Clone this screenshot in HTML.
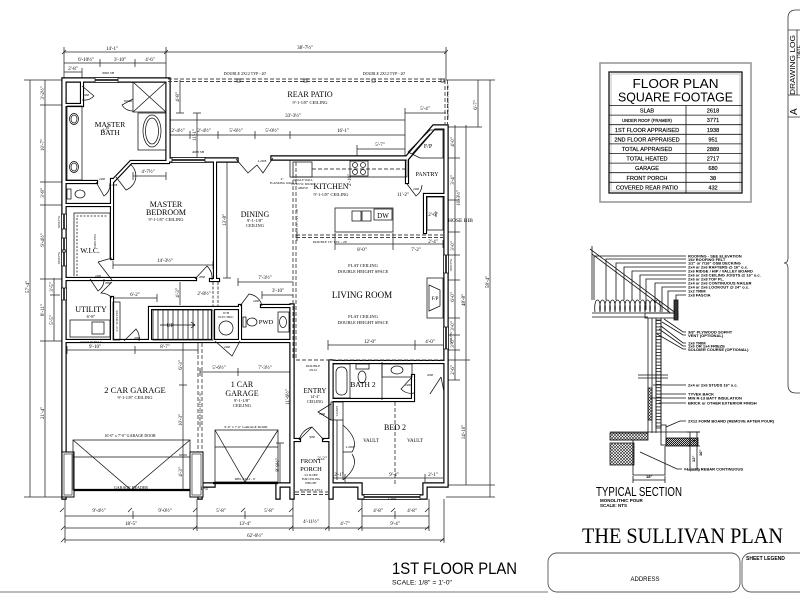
<!DOCTYPE html>
<html><head><meta charset="utf-8">
<style>
html,body{margin:0;padding:0;background:#fff;}
svg{display:block;}
.s{font-family:"Liberation Serif",serif;fill:#000;}
.a{font-family:"Liberation Sans",sans-serif;fill:#000;}
</style></head><body>
<svg width="800" height="600" viewBox="0 0 800 600" xmlns="http://www.w3.org/2000/svg">
<defs>
<path id="ext" d="M64,497 V80 H168 V160 H236 M273,158 H407 L434,127 H446 V485 H425 V497 H360 V485 H331 V362 M331,485 V497 M292,306 V497 M278,497 V485 H292 M200,497 V485 H213"/>
<path id="int" d="M64,182 H96 M64,205 H112 M112,180 V258 M113,181 L131,162 H168 M82,82 V105 H64 M64,279 H195 M211,280 H218 M215,160 V280 M112,298 V341 M64,341 H292 M150,308 H240 M262,306 H292 M150,308 V341 M213,308 V341 M240,306 V341 M331,362 H446 M331,400 H413 M413,376 V400 M407,160 V182 M425,195 H446 M425,195 V232 M292,440 H299 M324,440 H331"/>
<pattern id="brick" width="5" height="3.2" patternUnits="userSpaceOnUse"><path d="M0,0.5 H5" stroke="#111" stroke-width="0.8"/></pattern>
<pattern id="hatch" width="3" height="3" patternUnits="userSpaceOnUse"><path d="M0,3 L3,0 M0,0 L3,3" stroke="#222" stroke-width="0.6"/></pattern>
<pattern id="dark" width="2" height="2" patternUnits="userSpaceOnUse"><path d="M0,2 L2,0" stroke="#000" stroke-width="0.9"/></pattern>
</defs>
<rect width="800" height="600" fill="#fff"/>

<!-- ============ DIMENSION LINES ============ -->
<g stroke="#222" stroke-width="0.75" fill="none">
<path d="M64,52 H446 M64,47 V80 M166,47 V80 M446,47 V80"/>
<path d="M64,63 H166 M100,59 V67 M135,59 V67"/>
<path d="M64,72 H82 M82,68 V78"/>
<path d="M30,80 V497 M45,80 V497 M54,278 V341"/>
<path d="M24,80 H64 M40,105 H64 M40,182 H64 M40,205 H64 M40,279 H64 M40,341 H64 M24,497 H64 M50,295 H60"/>
<path d="M455,125 V380 M466,125 V485 M478,80 V127 M490,80 V497"/>
<path d="M446,80 H495 M446,127 H482 M446,158 H460 M446,200 H460 M446,232 H460 M446,255 H460 M446,280 H460 M446,318 H460 M446,335 H460 M446,350 H460 M446,360 H470 M446,380 H460 M446,485 H495 M446,497 H495"/>
<path d="M65,516 H293 M362,516 H429 M65,528 H429 M65,540 H444"/>
<path d="M65,499 V543 M133,511 V519 M197,499 V531 M245,511 V519 M293,499 V531 M329,499 V531 M362,499 V531 M395,511 V519 M429,499 V531 M444,499 V543"/>
<path d="M168,120 H405 M168,116 V124 M405,108 V160"/>
<path d="M168,135 H405 M190,131 V139 M218,131 V139 M255,131 V139 M290,131 V139"/>
<path d="M357,149 H405 M357,145 V158"/>
<path d="M405,113 H446"/>
<path d="M180,80 V113 M176,113 H184 M197,113 V158 M193,113 H201"/>
<path d="M133,176 H166 M133,172 V180 M166,172 V180"/>
<path d="M113,265 H213 M113,261 V269 M213,261 V269"/>
<path d="M227,162 V278 M223,278 H231"/>
<path d="M183,341 V490 M179,385 H187 M179,455 H187"/>
<path d="M67,350 H198 M135,346 V354 M67,346 V354 M198,346 V354"/>
<path d="M113,298 H157 M157,294 V302"/>
<path d="M180,282 V305 M238,282 H293 M238,278 V286 M262,295 H293 M262,291 V299"/>
<path d="M200,372 H290 M238,368 V376 M200,368 V376 M290,368 V376"/>
<path d="M335,244 H443 M335,233 V250 M393,233 V250 M443,240 V248"/>
<path d="M328,345 H443 M328,340 V350 M415,340 V350"/>
<path d="M332,478 H443 M345,474 V482 M425,474 V482"/>
<path d="M280,443 V485 M276,443 H284 M276,485 H284"/>
<path d="M60,512 l4,-4 M128,512 l4,-4 M193,512 l4,-4 M241,512 l4,-4 M289,512 l4,-4 M358,512 l4,-4 M391,512 l4,-4 M425,512 l4,-4 M61,530 l4,-4 M193,530 l4,-4 M289,530 l4,-4 M325,530 l4,-4 M358,530 l4,-4 M425,530 l4,-4 M61,542 l4,-4 M440,542 l4,-4 M62,54 l4,-4 M164,54 l4,-4 M444,54 l4,-4"/>
</g>

<!-- ============ WALLS ============ -->
<use href="#ext" stroke="#000" stroke-width="5.4" fill="none" stroke-linecap="square"/>
<use href="#int" stroke="#000" stroke-width="4.2" fill="none" stroke-linecap="square"/>
<use href="#ext" stroke="#fff" stroke-width="3" fill="none" stroke-linecap="square"/>
<use href="#int" stroke="#fff" stroke-width="2" fill="none" stroke-linecap="square"/>
<!-- garage stubs -->
<rect x="62" y="452" width="12" height="45" fill="#fff" stroke="#000" stroke-width="1"/>
<rect x="190" y="452" width="13" height="45" fill="#fff" stroke="#000" stroke-width="1"/>
<rect x="64" y="454" width="8" height="41" fill="none" stroke="#111" stroke-width="0.6"/>
<rect x="192" y="454" width="9" height="41" fill="none" stroke="#111" stroke-width="0.6"/>

<!-- windows -->
<g fill="#fff" stroke="#000" stroke-width="0.7">
<rect x="95" y="77.5" width="23" height="5"/><rect x="172" y="157.5" width="33" height="5"/>
<rect x="61.5" y="214" width="5" height="15"/><rect x="61.5" y="238" width="5" height="12"/>
<rect x="61.5" y="252" width="5" height="14"/><rect x="61.5" y="288" width="5" height="12"/>
<rect x="443.5" y="255" width="5" height="18"/><rect x="443.5" y="327" width="5" height="22"/>
<rect x="364" y="494.5" width="56" height="5"/>
</g>
<g stroke="#000" stroke-width="1.5">
<path d="M95,80 H118 M172,160 H205 M64,214 V229 M64,238 V250 M64,252 V266 M64,288 V300 M446,255 V273 M446,327 V349 M364,497 H420"/>
</g>

<!-- ============ FIXTURES & DETAIL LINES ============ -->
<g stroke="#111" stroke-width="0.75" fill="none">
<rect x="67" y="106" width="15" height="74"/>
<ellipse cx="74" cy="119" rx="4.5" ry="5.5"/><ellipse cx="74" cy="119" rx="3" ry="4"/>
<ellipse cx="74" cy="167" rx="4.5" ry="5.5"/><ellipse cx="74" cy="167" rx="3" ry="4"/>
<ellipse cx="80" cy="194" rx="5" ry="4"/><rect x="67" y="189" width="4" height="10"/>
<rect x="133" y="82" width="33" height="30"/><path d="M133,82 L166,112 M166,82 L133,112"/>
<rect x="138" y="113" width="28" height="37"/><ellipse cx="152" cy="131" rx="9" ry="16"/><ellipse cx="152" cy="131" rx="6.5" ry="13"/>
<path d="M74,276 V213 H110 V258"/><path d="M77,276 V216 H107" stroke-dasharray="2 1.5"/>
<path d="M82,86 L94,96 A14,14 0 0 1 82,100"/>
<path d="M133,99 L122,105 A12,12 0 0 0 133,111"/>
<path d="M96,182 L104,196 A14,14 0 0 0 110,183"/>
<path d="M116,177 L126,190 A15,15 0 0 0 130,164"/>
<path d="M195,279 L207,266 A17,17 0 0 1 212,280"/>
<path d="M98,262 L112,280 M112,258 L98,262"/>
<path d="M90,279 L98,291 A14,14 0 0 0 104,279"/>
<path d="M112,282 L101,293 A15,15 0 0 1 112,298"/>
<path d="M124,341 L136,329 A15,15 0 0 1 139,341"/>
<path d="M215,341 L232,356 L240,341"/>
<path d="M240,306 L249,294 A15,15 0 0 1 262,306"/>
<path d="M407,184 L416,196 A14,14 0 0 0 422,185"/>
<path d="M412,377 L401,389 A14,14 0 0 0 414,393"/>
<path d="M441,377 L430,394 M441,377 L444,392"/>
<path d="M331,404 L318,412 L331,420"/>
<path d="M299,440 L312,427 L324,440 M299,440 A18,18 0 0 1 312,427"/>
<path d="M343,425 Q360,440 352,452 L343,452 M343,480 Q360,466 352,454"/>
<path d="M236,159 L248,173 L257,165 L263,173 L273,158"/>
<rect x="70" y="320" width="40" height="17"/><rect x="92" y="322" width="12" height="12"/>
<rect x="113" y="302" width="7" height="38"/>
<rect x="153" y="310" width="60" height="30"/>
<path d="M158,310 V340 M163,310 V340 M168,310 V340 M173,310 V340 M178,310 V340 M183,310 V340 M188,310 V340 M193,310 V340 M198,310 V340 M203,310 V340 M208,310 V340"/>
<path d="M160,325 H195 M191,322 L195,325 L191,328"/>
<circle cx="226" cy="328" r="7"/>
<ellipse cx="252" cy="322" rx="5" ry="4"/><rect x="243" y="317" width="3" height="10"/>
<rect x="278" y="312" width="11" height="20"/><ellipse cx="283" cy="322" rx="3.5" ry="5.5"/>
<path d="M213,282 V306 M218,282 V306" stroke-dasharray="3 1.5"/>
<rect x="290" y="160" width="117" height="17"/>
<path d="M312,169 H405" stroke-dasharray="4 2"/>
<rect x="293" y="162" width="19" height="15"/>
<rect x="350" y="161" width="18" height="15"/>
<circle cx="355" cy="165" r="2.5"/><circle cx="363" cy="165" r="2.5"/><circle cx="355" cy="172" r="2.5"/><circle cx="363" cy="172" r="2.5"/>
<rect x="335" y="208" width="58" height="24"/>
<rect x="352" y="211" width="9" height="10"/><rect x="362" y="211" width="9" height="10"/>
<rect x="374" y="209" width="18" height="11"/>
<rect x="427" y="197" width="16" height="33"/>
<path d="M408,152 L430,130 H443 V158 H420 Z"/>
<path d="M412,154 L430,134" />
<rect x="427" y="278" width="16" height="40"/><path d="M429,285 L440,290 V306 L429,311 Z"/>
<rect x="333" y="364" width="17" height="34"/><rect x="336" y="367" width="11" height="28" rx="5"/>
<rect x="356" y="364" width="13" height="5"/><ellipse cx="362" cy="377" rx="4" ry="6"/>
<rect x="382" y="364" width="30" height="13"/><ellipse cx="397" cy="370" rx="6" ry="4"/>
<path d="M382,362 V400"/>
<rect x="331" y="402" width="12" height="18"/>
<path d="M337,420 V480 M343,420 V480"/>
<rect x="73" y="440" width="117" height="50"/><path d="M73,457 H190 M73,440 L131,490 L190,440"/>
<rect x="215" y="430" width="63" height="52"/><path d="M215,447 H278 M215,430 L245,482 L278,430"/>
</g>
<g stroke="#000" stroke-width="2.2"><path d="M74,490 H190 M213,483 H278"/></g>
<g stroke="#444" stroke-width="0.9" fill="none" stroke-dasharray="4 2">
<path d="M168,79 H445 M168,81.5 H445 M445,80 V125 M447.5,80 V125"/>
<path d="M293,162 V360 M296,162 V360"/>
<path d="M296,235 H443 M296,237.5 H443"/>
<path d="M198,343 V452 M202,343 V452"/>
<path d="M296,360 H443"/>
<path d="M395,402 V484"/>
<path d="M295,492 H328 M295,494.5 H328"/>
</g>
<g fill="#fff" stroke="#111" stroke-width="0.7">
<rect x="237" y="79" width="3" height="3"/><rect x="304" y="79" width="3" height="3"/><rect x="372" y="79" width="3" height="3"/><rect x="441" y="79" width="3" height="3"/>
</g>

<!-- ============ PLAN TEXT ============ -->
<g class="s" text-anchor="middle">
<text x="110" y="127" font-size="7.5">MASTER</text><text x="110" y="135" font-size="7.5">BATH</text>
<text x="166" y="207" font-size="8">MASTER</text><text x="166" y="215" font-size="8">BEDROOM</text><text x="166" y="221" font-size="4.5">9'-1-1/8" CEILING</text>
<text x="90" y="253" font-size="7.5">W.I.C.</text>
<text x="255" y="217" font-size="8">DINING</text><text x="255" y="222" font-size="4.5">9'-1-1/8"</text><text x="255" y="227" font-size="4.5">CEILING</text>
<text x="310" y="97" font-size="8">REAR PATIO</text><text x="310" y="104" font-size="4.5">9'-1-1/8" CEILING</text>
<text x="331" y="189" font-size="8">KITCHEN</text><text x="331" y="196" font-size="4.5">9'-1-1/8" CEILING</text>
<text x="427" y="176" font-size="6">PANTRY</text>
<text x="428" y="148" font-size="6">F/P</text><text x="435" y="300" font-size="5">F/P</text>
<text x="362" y="298" font-size="9">LIVING ROOM</text>
<text x="363" y="267" font-size="4.5">FLAT CEILING</text><text x="363" y="273" font-size="4.5">DOUBLE HEIGHT SPACE</text>
<text x="363" y="318" font-size="4.5">FLAT CEILING</text><text x="363" y="324" font-size="4.5">DOUBLE HEIGHT SPACE</text>
<text x="91" y="312" font-size="8">UTILITY</text><text x="91" y="318" font-size="4.5">6'-8"</text>
<text x="170" y="327" font-size="5.5">UP</text>
<text x="226" y="314" font-size="3.2">W/H</text><text x="226" y="318" font-size="3.2">ELECTRIC</text>
<text x="266" y="324" font-size="6.5">PWD</text>
<text x="135" y="393" font-size="8.5">2 CAR GARAGE</text><text x="135" y="399" font-size="4.5">9'-1-1/8" CEILING</text>
<text x="130" y="437" font-size="4">16'-0" x 7'-0" GARAGE DOOR</text>
<text x="131" y="489" font-size="4">GARAGE HEADER</text>
<text x="242" y="387" font-size="8">1 CAR</text><text x="242" y="396" font-size="8">GARAGE</text><text x="242" y="402" font-size="4.5">9'-1-1/8"</text><text x="242" y="407" font-size="4.5">CEILING</text>
<text x="246" y="428" font-size="3.5">9'-0" x 7'-0" GARAGE DOOR</text>
<text x="245" y="480" font-size="3.5">DBL 2X12 - 9'</text>
<text x="315" y="393" font-size="7">ENTRY</text><text x="315" y="398" font-size="4">14'-4"</text><text x="315" y="403" font-size="4">CEILING</text>
<text x="363" y="387" font-size="7.5">BATH 2</text>
<text x="395" y="430" font-size="8">BED 2</text>
<text x="371" y="442" font-size="5">VAULT</text><text x="415" y="442" font-size="5">VAULT</text>
<text x="311" y="463" font-size="6.5">FRONT</text><text x="311" y="471" font-size="6.5">PORCH</text>
<text x="311" y="476" font-size="3">3/4 SLOPE</text><text x="311" y="480" font-size="3">FOR CEILING</text><text x="311" y="484" font-size="3">HEIGHT</text>
<text x="311" y="491" font-size="3.5">DOUBLE 2X12</text>
<text x="313" y="367" font-size="3.5">DOUBLE</text><text x="313" y="371" font-size="3.5">2X12</text>
<text x="383" y="218" font-size="7">DW</text>
<text x="245" y="75" font-size="4">DOUBLE 2X12 TYP - 20'</text><text x="384" y="75" font-size="4">DOUBLE 2X12 TYP - 20'</text>
<text x="330" y="243" font-size="3.5">DOUBLE 16" LVL - 20'</text>
<text x="303" y="181" font-size="3">SINGLE WALL</text><text x="303" y="185" font-size="3">OVEN W/ MICRO</text><text x="303" y="189" font-size="3">ABOVE</text>
<text x="282" y="180" font-size="3">4"</text><text x="282" y="184" font-size="3">FLANKING WALL</text>
<text x="198" y="153" font-size="3.5">4068 SH</text><text x="108" y="74" font-size="3.5">3068 SH</text>
<text x="113" y="186" font-size="3">2-1068</text><text x="102" y="180" font-size="3">2468</text><text x="86" y="96" font-size="3">2468</text>
<text x="128" y="102" font-size="3">DOOR</text><text x="262" y="162" font-size="3">2-2068</text>
<text x="202" y="278" font-size="3">2868</text><text x="98" y="277" font-size="3">2468</text><text x="108" y="284" font-size="3">2868</text>
<text x="137" y="339" font-size="3">2868</text><text x="227" y="348" font-size="3">2468</text><text x="256" y="302" font-size="3">2468</text>
<text x="416" y="190" font-size="3">2468</text><text x="408" y="386" font-size="3">2468</text><text x="430" y="376" font-size="3">2068</text>
<text x="322" y="415" font-size="3">1868</text><text x="312" y="438" font-size="3">3080</text><text x="350" y="448" font-size="3">2-2068</text>
<text x="392" y="500" font-size="3">2-3060</text><text x="91" y="343" font-size="3">2/3 SOLID BULK</text>
<text x="448" y="222" font-size="5.5" text-anchor="start">HOSE BIB</text>
<g font-size="5">
<text x="112" y="50">14'-1"</text><text x="305" y="49">38'-7½"</text>
<text x="86" y="61">6'-10½"</text><text x="120" y="61">3'-10"</text><text x="150" y="61">4'-6"</text><text x="73" y="70">2'-8"</text>
<text x="293" y="117">33'-3½"</text><text x="178" y="132">2'-4½"</text><text x="204" y="132">2'-4½"</text><text x="236" y="132">5'-6½"</text><text x="272" y="132">5'-0½"</text><text x="343" y="132">16'-1"</text>
<text x="380" y="146">5'-7"</text><text x="425" y="110">5'-4"</text>
<text x="148" y="173">4'-7½"</text><text x="165" y="262">14'-3½"</text>
<text x="135" y="296">6'-2"</text><text x="265" y="279">7'-3½"</text><text x="278" y="292">3'-10"</text><text x="204" y="295">2'-8½"</text>
<text x="95" y="348">9'-10"</text><text x="165" y="348">8'-7"</text>
<text x="219" y="369">5'-6½"</text><text x="265" y="369">7'-3½"</text>
<text x="362" y="251">8'-0"</text><text x="416" y="251">7'-2"</text>
<text x="370" y="343">12'-0"</text><text x="430" y="343">4'-0"</text>
<text x="339" y="476">2'-1"</text><text x="394" y="476">9'-4"</text><text x="433" y="476">2'-1"</text><text x="322" y="460">2'-2"</text>
<text x="403" y="196">11'-2"</text><text x="433" y="216">2'-6"</text><text x="433" y="243">2'-4"</text>
<text x="99" y="512">9'-4½"</text><text x="165" y="512">9'-0½"</text><text x="221" y="512">5'-8"</text><text x="269" y="512">5'-8"</text><text x="378" y="512">4'-8"</text><text x="412" y="512">4'-8"</text>
<text x="131" y="525">18'-5"</text><text x="245" y="525">13'-4"</text><text x="311" y="523">4'-11½"</text><text x="345" y="525">4'-7"</text><text x="395" y="525">9'-4"</text>
<text x="255" y="537">62'-6½"</text><text x="205" y="490">1'-4"</text>
</g>
<g font-size="5">
<text transform="translate(44,93) rotate(-90)">3'-2½"</text>
<text transform="translate(44,145) rotate(-90)">10'-7"</text>
<text transform="translate(44,193) rotate(-90)">3'-8"</text>
<text transform="translate(44,240) rotate(-90)">9'-4½"</text>
<text transform="translate(44,310) rotate(-90)">8'-11"</text>
<text transform="translate(44,413) rotate(-90)">21'-4"</text>
<text transform="translate(29,287) rotate(-90)">57'-4"</text>
<text transform="translate(53,287) rotate(-90)">3'-5"</text>
<text transform="translate(53,320) rotate(-90)">5'-5"</text>
<text transform="translate(477,105) rotate(-90)">6'-7"</text>
<text transform="translate(454,142) rotate(-90)">4'-0"</text>
<text transform="translate(454,180) rotate(-90)">3'-4"</text>
<text transform="translate(460,198) rotate(-90)">10'-3½"</text>
<text transform="translate(454,246) rotate(-90)">3'-0"</text>
<text transform="translate(454,297) rotate(-90)">6'-0"</text>
<text transform="translate(454,326) rotate(-90)">3'-0"</text>
<text transform="translate(454,343) rotate(-90)">3'-0"</text>
<text transform="translate(454,370) rotate(-90)">2'-6"</text>
<text transform="translate(465,300) rotate(-90)">48'-8"</text>
<text transform="translate(489,282) rotate(-90)">58'-4"</text>
<text transform="translate(465,432) rotate(-90)">14'-10"</text>
<text transform="translate(179,97) rotate(-90)">4'-8"</text>
<text transform="translate(196,135) rotate(-90)">11'-1"</text>
<text transform="translate(226,220) rotate(-90)">13'-8"</text>
<text transform="translate(179,293) rotate(-90)">4'-3"</text>
<text transform="translate(182,365) rotate(-90)">6'-3"</text>
<text transform="translate(182,420) rotate(-90)">10'-3"</text>
<text transform="translate(182,472) rotate(-90)">4'-3"</text>
<text transform="translate(279,465) rotate(-90)">8'-9½"</text>
<text transform="translate(289,397) rotate(-90)">11'-6½"</text>
<text transform="translate(351,180) rotate(-90)">2'-10"</text>
<text transform="translate(107,130) rotate(-35)">2'-6"</text>
</g>
<g font-size="3.3">
<text transform="translate(449,102) rotate(-90)">DOUBLE 2X12 TYP - 20'</text>
<text transform="translate(298,225) rotate(-90)">DOUBLE 16" LVL - 20'</text>
<text transform="translate(201,410) rotate(-90)">DOUBLE 2X12 TYP - 10'</text>
<text transform="translate(338,411) rotate(-90)">COATS</text>
<text transform="translate(437,214) rotate(-90)">REF</text>
<text transform="translate(118,321) rotate(-90)">3'-0" SHELVES</text>
<text transform="translate(60,222) rotate(-90)">3068 FW</text>
<text transform="translate(60,258) rotate(-90)">3068 FW</text>
<text transform="translate(452,265) rotate(-90)">3060 FW</text>
<text transform="translate(452,338) rotate(-90)">3060 FW</text>
<text transform="translate(96,241) rotate(-90)">SHELVES</text>
</g>
</g>

<!-- ============ TITLES ============ -->
<text class="a" x="392" y="574" font-size="17" textLength="125" lengthAdjust="spacingAndGlyphs">1ST FLOOR PLAN</text>
<text class="a" x="392" y="584.5" font-size="6.5" textLength="60" lengthAdjust="spacingAndGlyphs">SCALE: 1/8" = 1'-0"</text>
<path d="M0,592 H548" stroke="#bbb" stroke-width="2"/>

<!-- ============ SQUARE FOOTAGE TABLE ============ -->
<rect x="600" y="63" width="151" height="139" fill="none" stroke="#999" stroke-width="1.6"/>
<rect x="609" y="72" width="133" height="121" fill="none" stroke="#111" stroke-width="1.3"/>
<rect x="611" y="74" width="129" height="117" fill="none" stroke="#aaa" stroke-width="0.7"/>
<g class="a" text-anchor="middle">
<text x="675.5" y="88" font-size="13" textLength="86" lengthAdjust="spacingAndGlyphs">FLOOR PLAN</text>
<text x="675.5" y="101.5" font-size="13" textLength="115" lengthAdjust="spacingAndGlyphs">SQUARE FOOTAGE</text>
</g>
<g stroke="#111" stroke-width="0.8">
<path d="M609,105.5 H742 M609,115.1 H742 M609,124.7 H742 M609,134.3 H742 M609,143.9 H742 M609,153.5 H742 M609,163.1 H742 M609,172.7 H742 M609,182.3 H742 M686,105.5 V193"/>
</g>
<g class="a" text-anchor="middle" font-size="5.6" stroke="#000" stroke-width="0.15">
<text x="647" y="112.6">SLAB</text><text x="713" y="112.6">2618</text>
<text x="647" y="121.8" font-size="4.2">UNDER ROOF (FRAMER)</text><text x="713" y="122.2">3771</text>
<text x="647" y="131.8">1ST FLOOR APPRAISED</text><text x="713" y="131.8">1938</text>
<text x="647" y="141.4">2ND FLOOR APPRAISED</text><text x="713" y="141.4">951</text>
<text x="647" y="151">TOTAL APPRAISED</text><text x="713" y="151">2889</text>
<text x="647" y="160.6">TOTAL HEATED</text><text x="713" y="160.6">2717</text>
<text x="647" y="170.2">GARAGE</text><text x="713" y="170.2">680</text>
<text x="647" y="179.8">FRONT PORCH</text><text x="713" y="179.8">38</text>
<text x="647" y="189.4">COVERED REAR PATIO</text><text x="713" y="189.4">432</text>
</g>

<!-- ============ RIGHT BORDER ============ -->
<g stroke="#333" stroke-width="0.8" fill="none">
<path d="M800,10 H796 Q788,10 788,18 V258 Q788,263 784,263 Q788,263 788,268 V385 Q788,393 796,393 H800"/>
<path d="M788,30 H800 M797,30 V95 M788,95 H800 M788,117 H800"/>
</g>
<text class="a" transform="translate(795,95) rotate(-90)" font-size="7" textLength="60" lengthAdjust="spacingAndGlyphs">DRAWING LOG</text>
<text class="a" transform="translate(797,115) rotate(-90)" font-size="10">A</text>
<text class="a" transform="translate(801,58) rotate(-90)" font-size="5">DATE</text>

<!-- ============ TYPICAL SECTION ============ -->
<g stroke="#111" stroke-width="0.8" fill="none">
<path d="M592,246 V300"/>
<path d="M590,249 L677,314 M592,254 L670,312.5"/>
<path d="M595,312 c-2,-16 7,-16 5,0 c-2,-16 7,-16 5,0 c-2,-16 7,-16 5,0 c-2,-16 7,-16 5,0 c-2,-16 7,-16 5,0 c-2,-16 7,-16 5,0 c-2,-16 7,-16 5,0 c-2,-16 7,-16 5,0 c-2,-16 7,-16 5,0 c-2,-16 7,-16 5,0 c-2,-16 7,-16 5,0 c-2,-16 7,-16 5,0 c-2,-16 7,-16 5,0"/>
<path d="M592,313 H678 M592,317 H648"/>
<rect x="645" y="313" width="33" height="5"/>
<rect x="674" y="300" width="4" height="20" fill="#333"/>
<path d="M648,318 V433 M652,318 V433 M656,318 V433 M661,318 V433"/>
<rect x="656" y="320" width="5" height="108" fill="url(#brick)"/>
<rect x="648" y="388" width="4" height="32" fill="url(#hatch)"/>
<path d="M638,375 H668 M638,378 H668"/>
<path d="M594,300 V256 H686 M606,300 V259 H686 M616,300 V263 H686 M624,300 V267 H686 M632,300 V271 H686 M640,300 V275 H686 M646,310 V279 H686 M655,312 V283 H686 M662,312 V287 H686 M668,312 V291 H686 M676,300 V295 H686"/>
<path d="M664,319 L683,332 H686 M662,322 L683,335 H686 M661,326 L683,343 H686 M659,329 L683,346 H686 M657,334 L683,349 H686"/>
<path d="M653,385 H686 M661,394 H686 M650,398 H686 M659,403 H686"/>
<path d="M666,427 L680,421 H686"/>
<path d="M610,432 H700 M610,440 H648"/>
<rect x="610" y="433" width="38" height="7" fill="url(#hatch)"/>
<rect x="661" y="425" width="5" height="20"/>
<rect x="666" y="438" width="32" height="8" fill="url(#dark)"/>
<rect x="610" y="443" width="24" height="22" fill="url(#hatch)"/>
<path d="M633,440 V475 H665 V446"/>
<path d="M640,452 L677,469 H682"/>
<path d="M633,480 H665 M633,476 V483 M665,476 V483"/>
<path d="M690,432 V470 M697,432 V470 M687,432 H700 M687,446 H700 M687,470 H700"/>
</g>
<g class="a" font-size="4" font-weight="bold">
<text x="688" y="257.5">ROOFING - SEE ELEVATION</text>
<text x="688" y="261">15# ROOFING FELT</text>
<text x="688" y="264.5">1/2" or 7/16" OSB DECKING</text>
<text x="688" y="268.5">2x4 or 2x6 RAFTERS @ 16" o.c.</text>
<text x="688" y="272.5">2x6 RIDGE / HIP / VALLEY BOARD</text>
<text x="688" y="276.5">2x6 or 2x8 CEILING JOISTS @ 16" o.c.</text>
<text x="688" y="280.5">2x6 or 2x8 TOP PL.</text>
<text x="688" y="284.5">2x4 or 2x6 CONTINUOUS NAILER</text>
<text x="688" y="288.5">2x4 or 2x6 LOOKOUT @ 24" o.c.</text>
<text x="688" y="292.5">1x2 TRIM</text>
<text x="688" y="296.5">1x8 FASCIA</text>
<text x="688" y="333.5">3/8" PLYWOOD SOFFIT</text>
<text x="688" y="337">VENT (OPTIONAL)</text>
<text x="688" y="344.5">1x6 TRIM</text>
<text x="688" y="347.5">1x6 OR 1x4 FRIEZE</text>
<text x="688" y="351">SOLDIER COURSE (OPTIONAL)</text>
<text x="688" y="386.5">2x4 or 2x6 STUDS 16" o.c.</text>
<text x="688" y="395.5">TYVEK BACK</text>
<text x="688" y="399.5">MIN R-13 BATT INSULATION</text>
<text x="688" y="404.5">BRICK or OTHER EXTERIOR FINISH</text>
<text x="688" y="422.5">2X12 FORM BOARD (REMOVE AFTER POUR)</text>
<text x="684" y="470.5">#4 (1/2") REBAR CONTINUOUS</text>
<text x="646" y="478">18"</text>
<text transform="translate(695,442) rotate(-90)">4"</text>
<text transform="translate(695,462) rotate(-90)">12"</text>
<text transform="translate(702,456) rotate(-90)">16"</text>
</g>
<text class="a" x="596" y="496" font-size="12.5" textLength="86" lengthAdjust="spacingAndGlyphs">TYPICAL SECTION</text>
<text class="a" x="600" y="502" font-size="4.5" font-weight="bold">MONOLITHIC POUR</text>
<text class="a" x="600" y="507" font-size="4.5" font-weight="bold">SCALE: NTS</text>

<!-- ============ TITLE BLOCK ============ -->
<text class="s" x="582" y="543" font-size="22" textLength="201" lengthAdjust="spacingAndGlyphs">THE SULLIVAN PLAN</text>
<rect x="548" y="553" width="192" height="39" rx="9" fill="none" stroke="#555" stroke-width="0.9"/>
<rect x="742" y="553" width="70" height="39" rx="9" fill="none" stroke="#555" stroke-width="0.9"/>
<text class="a" x="645" y="581" font-size="6" text-anchor="middle">ADDRESS</text>
<text class="a" x="746" y="560" font-size="5" font-weight="bold">SHEET LEGEND</text>
</svg>
</body></html>
